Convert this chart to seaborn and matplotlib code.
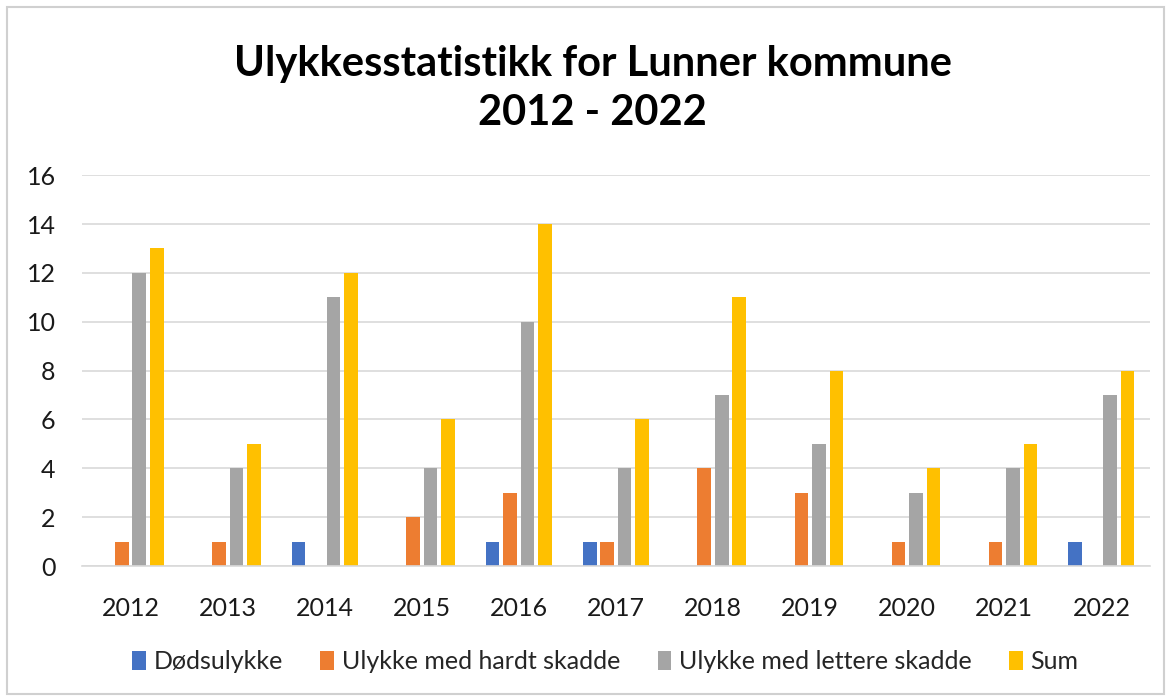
import pandas as pd
import matplotlib
matplotlib.use("Agg")
import matplotlib.pyplot as plt
import seaborn as sns
from matplotlib.patches import Rectangle

# Data
years = ["2012", "2013", "2014", "2015", "2016", "2017", "2018", "2019", "2020", "2021", "2022"]
dodsulykke = [0, 0, 1, 0, 1, 1, 0, 0, 0, 0, 1]
hardt_skadde = [1, 1, 0, 2, 3, 1, 4, 3, 1, 1, 0]
lettere_skadde = [12, 4, 11, 4, 10, 4, 7, 5, 3, 4, 7]
sum_ulykker = [13, 5, 12, 6, 14, 6, 11, 8, 4, 5, 8]

series_names = ["Dødsulykke", "Ulykke med hardt skadde", "Ulykke med lettere skadde", "Sum"]
colors = ["#4472C4", "#ED7D31", "#A5A5A5", "#FFC000"]

rows = []
for name, vals in zip(series_names, [dodsulykke, hardt_skadde, lettere_skadde, sum_ulykker]):
    for y, v in zip(years, vals):
        rows.append({"year": y, "serie": name, "antall": v})
df = pd.DataFrame(rows)

sns.set_style("white")
plt.rcParams["font.family"] = ["Lato", "DejaVu Sans"]

fig = plt.figure(figsize=(11.71, 6.98), dpi=100)
ax = fig.add_axes([0.070, 0.189, 0.912, 0.560])

sns.barplot(data=df, x="year", y="antall", hue="serie", palette=colors,
            width=0.72, gap=0.22, ax=ax, saturation=1, edgecolor="none")

ax.set_ylim(0, 16)
ax.set_yticks(range(0, 17, 2))
ax.set_xlim(-0.5, len(years) - 0.5)
ax.grid(axis="y", color="#D9D9D9", linewidth=1.2)
ax.set_axisbelow(True)
for side in ["top", "right", "left"]:
    ax.spines[side].set_visible(False)
ax.spines["bottom"].set_color("#D9D9D9")
ax.spines["bottom"].set_linewidth(1.2)
ax.tick_params(axis="both", length=0, labelsize=18, colors="#1a1a1a")
ax.tick_params(axis="x", pad=22)
ax.tick_params(axis="y", pad=19)
ax.set_xlabel("")
ax.set_ylabel("")

fig.text(0.506, 0.873, "Ulykkesstatistikk for Lunner kommune\n2012 - 2022",
         ha="center", va="center", fontsize=30, fontweight="bold",
         linespacing=1.35, color="black")

handles, labels = ax.get_legend_handles_labels()
ax.legend(handles, labels, loc="center", bbox_to_anchor=(0.49, -0.245),
          ncol=4, frameon=False, fontsize=18, handlelength=0.55,
          handleheight=0.8, handletextpad=0.3, columnspacing=1.5)

fig.patches.append(Rectangle((0.006, 0.006), 0.988, 0.984, transform=fig.transFigure,
                             fill=False, edgecolor="#D0D0D0", linewidth=1.5))

fig.savefig("out.png", dpi=100)
